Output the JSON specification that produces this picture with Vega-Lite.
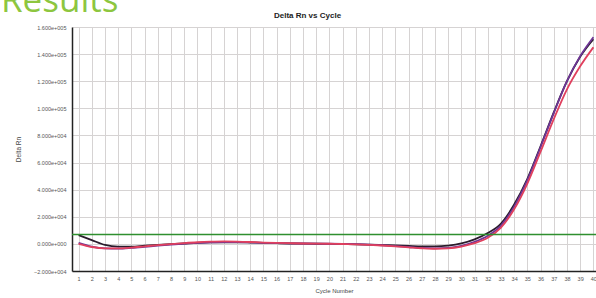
{
  "$schema": "https://vega.github.io/schema/vega-lite/v6.json",
  "width": 524,
  "height": 244,
  "autosize": {"type": "none"},
  "padding": {"left": 72, "top": 27, "right": 0, "bottom": 27},
  "background": "white",
  "view": {"stroke": null},
  "config": {"axis": {"labelOverlap": false}},
  "title": {
    "text": "Results",
    "anchor": "start",
    "frame": "group",
    "dx": -71,
    "offset": -8,
    "font": "Open Sans",
    "fontSize": 35,
    "fontWeight": "normal",
    "color": "#8dc63f"
  },
  "datasets": {
    "curves": [
      {"cycle": 1, "series": "A", "rn": 6500}, {"cycle": 2, "series": "A", "rn": 2800}, {"cycle": 3, "series": "A", "rn": -800}, {"cycle": 4, "series": "A", "rn": -2000}, {"cycle": 5, "series": "A", "rn": -2000}, {"cycle": 6, "series": "A", "rn": -1300}, {"cycle": 7, "series": "A", "rn": -700}, {"cycle": 8, "series": "A", "rn": -200}, {"cycle": 9, "series": "A", "rn": 300}, {"cycle": 10, "series": "A", "rn": 800},
      {"cycle": 11, "series": "A", "rn": 1100}, {"cycle": 12, "series": "A", "rn": 1200}, {"cycle": 13, "series": "A", "rn": 1200}, {"cycle": 14, "series": "A", "rn": 1000}, {"cycle": 15, "series": "A", "rn": 700}, {"cycle": 16, "series": "A", "rn": 500}, {"cycle": 17, "series": "A", "rn": 300}, {"cycle": 18, "series": "A", "rn": 200}, {"cycle": 19, "series": "A", "rn": 100}, {"cycle": 20, "series": "A", "rn": 0},
      {"cycle": 21, "series": "A", "rn": -100}, {"cycle": 22, "series": "A", "rn": -300}, {"cycle": 23, "series": "A", "rn": -500}, {"cycle": 24, "series": "A", "rn": -800}, {"cycle": 25, "series": "A", "rn": -1200}, {"cycle": 26, "series": "A", "rn": -1500}, {"cycle": 27, "series": "A", "rn": -1800}, {"cycle": 28, "series": "A", "rn": -1900}, {"cycle": 29, "series": "A", "rn": -1300}, {"cycle": 30, "series": "A", "rn": 300},
      {"cycle": 31, "series": "A", "rn": 3300}, {"cycle": 32, "series": "A", "rn": 8000}, {"cycle": 33, "series": "A", "rn": 15000}, {"cycle": 34, "series": "A", "rn": 29000}, {"cycle": 35, "series": "A", "rn": 48000}, {"cycle": 36, "series": "A", "rn": 72000}, {"cycle": 37, "series": "A", "rn": 97000}, {"cycle": 38, "series": "A", "rn": 120000}, {"cycle": 39, "series": "A", "rn": 138000}, {"cycle": 40, "series": "A", "rn": 151000},
      {"cycle": 1, "series": "B", "rn": 800}, {"cycle": 2, "series": "B", "rn": -2000}, {"cycle": 3, "series": "B", "rn": -3300}, {"cycle": 4, "series": "B", "rn": -3500}, {"cycle": 5, "series": "B", "rn": -3000}, {"cycle": 6, "series": "B", "rn": -2200}, {"cycle": 7, "series": "B", "rn": -1300}, {"cycle": 8, "series": "B", "rn": -500}, {"cycle": 9, "series": "B", "rn": 200}, {"cycle": 10, "series": "B", "rn": 700},
      {"cycle": 11, "series": "B", "rn": 1100}, {"cycle": 12, "series": "B", "rn": 1300}, {"cycle": 13, "series": "B", "rn": 1300}, {"cycle": 14, "series": "B", "rn": 1100}, {"cycle": 15, "series": "B", "rn": 800}, {"cycle": 16, "series": "B", "rn": 600}, {"cycle": 17, "series": "B", "rn": 400}, {"cycle": 18, "series": "B", "rn": 300}, {"cycle": 19, "series": "B", "rn": 200}, {"cycle": 20, "series": "B", "rn": 100},
      {"cycle": 21, "series": "B", "rn": 0}, {"cycle": 22, "series": "B", "rn": -200}, {"cycle": 23, "series": "B", "rn": -500}, {"cycle": 24, "series": "B", "rn": -1000}, {"cycle": 25, "series": "B", "rn": -1600}, {"cycle": 26, "series": "B", "rn": -2300}, {"cycle": 27, "series": "B", "rn": -3000}, {"cycle": 28, "series": "B", "rn": -3300}, {"cycle": 29, "series": "B", "rn": -3000}, {"cycle": 30, "series": "B", "rn": -1500},
      {"cycle": 31, "series": "B", "rn": 1500}, {"cycle": 32, "series": "B", "rn": 6000}, {"cycle": 33, "series": "B", "rn": 13500}, {"cycle": 34, "series": "B", "rn": 27500}, {"cycle": 35, "series": "B", "rn": 47000}, {"cycle": 36, "series": "B", "rn": 71500}, {"cycle": 37, "series": "B", "rn": 96500}, {"cycle": 38, "series": "B", "rn": 120000}, {"cycle": 39, "series": "B", "rn": 138500}, {"cycle": 40, "series": "B", "rn": 152500},
      {"cycle": 1, "series": "C", "rn": 0}, {"cycle": 2, "series": "C", "rn": -2300}, {"cycle": 3, "series": "C", "rn": -3300}, {"cycle": 4, "series": "C", "rn": -3300}, {"cycle": 5, "series": "C", "rn": -2700}, {"cycle": 6, "series": "C", "rn": -1800}, {"cycle": 7, "series": "C", "rn": -900}, {"cycle": 8, "series": "C", "rn": -100}, {"cycle": 9, "series": "C", "rn": 600}, {"cycle": 10, "series": "C", "rn": 1200},
      {"cycle": 11, "series": "C", "rn": 1600}, {"cycle": 12, "series": "C", "rn": 1800}, {"cycle": 13, "series": "C", "rn": 1700}, {"cycle": 14, "series": "C", "rn": 1400}, {"cycle": 15, "series": "C", "rn": 1000}, {"cycle": 16, "series": "C", "rn": 700}, {"cycle": 17, "series": "C", "rn": 500}, {"cycle": 18, "series": "C", "rn": 300}, {"cycle": 19, "series": "C", "rn": 200}, {"cycle": 20, "series": "C", "rn": 100},
      {"cycle": 21, "series": "C", "rn": -100}, {"cycle": 22, "series": "C", "rn": -300}, {"cycle": 23, "series": "C", "rn": -700}, {"cycle": 24, "series": "C", "rn": -1200}, {"cycle": 25, "series": "C", "rn": -1800}, {"cycle": 26, "series": "C", "rn": -2500}, {"cycle": 27, "series": "C", "rn": -3200}, {"cycle": 28, "series": "C", "rn": -3600}, {"cycle": 29, "series": "C", "rn": -3300}, {"cycle": 30, "series": "C", "rn": -2000},
      {"cycle": 31, "series": "C", "rn": 500}, {"cycle": 32, "series": "C", "rn": 4500}, {"cycle": 33, "series": "C", "rn": 12000}, {"cycle": 34, "series": "C", "rn": 25500}, {"cycle": 35, "series": "C", "rn": 44500}, {"cycle": 36, "series": "C", "rn": 68000}, {"cycle": 37, "series": "C", "rn": 92000}, {"cycle": 38, "series": "C", "rn": 114000}, {"cycle": 39, "series": "C", "rn": 131000}, {"cycle": 40, "series": "C", "rn": 145000}
    ],
    "threshold": [
      {"start": 0.5, "end": 40.2, "rn": 7000}
    ]
  },
  "encoding": {
    "y": {
      "field": "rn", "type": "quantitative",
      "scale": {"domain": [-20000, 160000], "nice": false, "zero": false},
      "axis": {
        "title": "Delta Rn",
        "values": [-20000, 0, 20000, 40000, 60000, 80000, 100000, 120000, 140000, 160000],
        "labelExpr": "replace(replace(format(datum.value, '.3e'), 'e+', 'e+00'), 'e-', 'e-00')",
        "labelFontSize": 5.5, "labelColor": "#555", "labelFont": "Liberation Sans", "labelPadding": 6,
        "labelOverlap": false, "labelFlush": false,
        "ticks": false, "domainColor": "#222", "domainWidth": 1.5,
        "grid": true, "gridColor": "#d6d3d3", "gridWidth": 1,
        "titleFontSize": 6.5, "titleFontWeight": "normal", "titleColor": "#444", "titleFont": "Liberation Sans", "titlePadding": 12
      }
    }
  },
  "layer": [
    {
      "data": {"name": "curves"},
      "mark": {"type": "line", "interpolate": "monotone", "strokeWidth": 1.8, "clip": true},
      "encoding": {
        "x": {
          "field": "cycle", "type": "quantitative",
          "scale": {"domain": [0.5, 40.2], "nice": false, "zero": false},
          "axis": {
            "orient": "bottom",
            "title": "Cycle Number",
            "values": [1,2,3,4,5,6,7,8,9,10,11,12,13,14,15,16,17,18,19,20,21,22,23,24,25,26,27,28,29,30,31,32,33,34,35,36,37,38,39,40],
            "labelFontSize": 5.5, "labelColor": "#555", "labelFont": "Liberation Sans",
            "labelPadding": 5, "labelOverlap": false, "labelFlush": false,
            "ticks": false, "domainColor": "#222", "domainWidth": 1.5,
            "grid": true, "gridColor": "#d6d3d3", "gridWidth": 1,
            "titleFontSize": 6, "titleFontWeight": "normal", "titleColor": "#444", "titleFont": "Liberation Sans", "titlePadding": 6
          }
        },
        "color": {
          "field": "series", "type": "nominal",
          "scale": {"domain": ["A", "B", "C"], "range": ["#2a1c2c", "#6e3596", "#e0405e"]},
          "legend": null
        }
      }
    },
    {
      "data": {"name": "threshold"},
      "mark": {"type": "rule", "color": "#2f8f2f", "strokeWidth": 1.5},
      "encoding": {
        "x": {
          "field": "start", "type": "quantitative",
          "scale": {"domain": [0.5, 40.2], "nice": false, "zero": false},
          "axis": {
            "orient": "top", "title": "Delta Rn vs Cycle",
            "labels": false, "ticks": false, "domain": false, "grid": false,
            "titleFont": "Liberation Sans", "titleFontSize": 8, "titleFontWeight": "bold", "titleColor": "#222",
            "titleX": 235, "titleY": -12, "titleBaseline": "middle"
          }
        },
        "x2": {"field": "end"}
      }
    }
  ],
  "resolve": {"axis": {"x": "independent"}}
}
